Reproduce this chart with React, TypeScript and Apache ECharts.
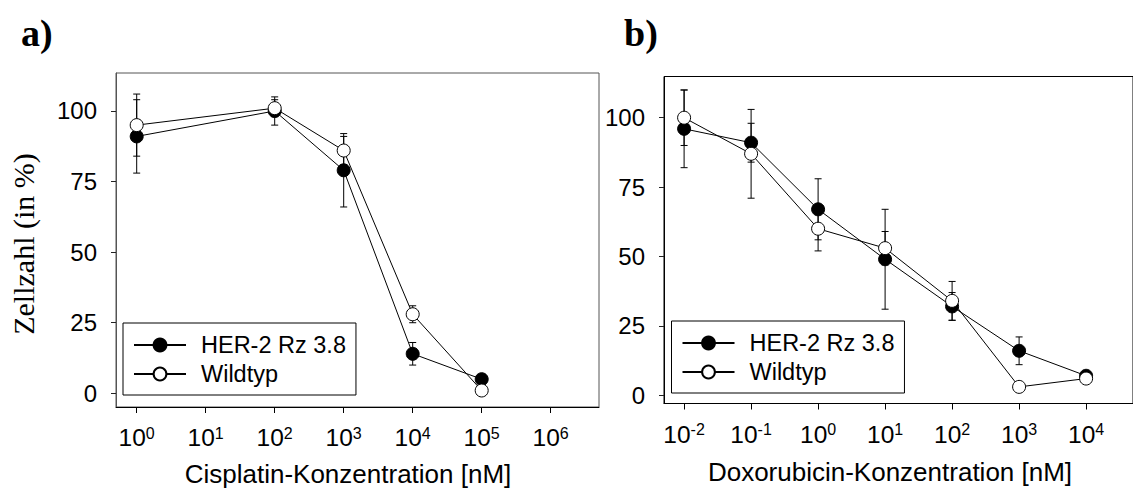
import React, { useEffect, useRef } from 'react';
import * as echarts from 'echarts';

const seriesNames = ['HER-2 Rz 3.8', 'Wildtyp'];
const yTicks = [0, 25, 50, 75, 100];

// Cisplatin (log10 of concentration in nM)
const cisExponents = [0, 2, 3, 4, 5];
const cisTickExponents = [0, 1, 2, 3, 4, 5, 6];
const cisHer2 = [91, 100, 79, 14, 5];
const cisHer2Err = [13, 5, 13, 4, 0];
const cisWild = [95, 101, 86, 28, 1];
const cisWildErr = [11, 3, 5, 3, 0];

// Doxorubicin (log10 of concentration in nM)
const doxExponents = [-2, -1, 0, 1, 2, 3, 4];
const doxTickExponents = [-2, -1, 0, 1, 2, 3, 4];
const doxHer2 = [96, 91, 67, 49, 32, 16, 7];
const doxHer2Err = [14, 7, 11, 18, 5, 5, 0];
const doxWild = [100, 87, 60, 53, 34, 3, 6];
const doxWildErr = [10, 16, 8, 6, 7, 0, 0];

const SANS = 'Liberation Sans, Arial, sans-serif';
const SERIF = 'Liberation Serif, Times New Roman, serif';

const pairs = (xs: number[], ys: number[]) => xs.map((x, i) => [x, ys[i]]);
const errData = (xs: number[], ys: number[], es: number[]) =>
  xs.map((x, i) => [x, ys[i] - es[i], ys[i] + es[i]]).filter((_, i) => es[i] > 0);

const renderErr = (_params: any, api: any) => {
  const x = api.value(0);
  const lo = api.value(1);
  const hi = api.value(2);
  const top = api.coord([x, hi]);
  const bot = api.coord([x, lo]);
  const w = 3.5;
  const style = { stroke: '#000', lineWidth: 1, fill: 'none' };
  return {
    type: 'group',
    children: [
      { type: 'line', shape: { x1: top[0], y1: top[1], x2: bot[0], y2: bot[1] }, style },
      { type: 'line', shape: { x1: top[0] - w, y1: top[1], x2: top[0] + w, y2: top[1] }, style },
      { type: 'line', shape: { x1: bot[0] - w, y1: bot[1], x2: bot[0] + w, y2: bot[1] }, style },
    ],
  };
};

const makeX = (gridIndex: number, min: number, max: number, ticks: number[]) => ({
  type: 'value',
  gridIndex,
  min,
  max,
  axisLine: { show: true, onZero: false, lineStyle: { color: '#000', width: 1 } },
  axisTick: { show: true, customValues: ticks, length: 6, lineStyle: { color: '#000' } },
  axisLabel: {
    customValues: ticks,
    margin: 18,
    formatter: (v: number) => `{b|10}{s|${v}}`,
    rich: {
      b: { fontFamily: SANS, fontSize: 24.5, color: '#000', lineHeight: 25 },
      s: { fontFamily: SANS, fontSize: 16, color: '#000', lineHeight: 12, verticalAlign: 'top' },
    },
  },
  splitLine: { show: false },
});

const makeY = (gridIndex: number, min: number, max: number, lineColor: string) => ({
  type: 'value',
  gridIndex,
  min,
  max,
  axisLine: { show: true, onZero: false, lineStyle: { color: lineColor, width: 1 } },
  axisTick: { show: true, customValues: yTicks, length: 5, lineStyle: { color: '#222' } },
  axisLabel: {
    customValues: yTicks,
    margin: 19,
    fontFamily: SANS,
    fontSize: 24,
    color: '#000',
  },
  splitLine: { show: false },
});

const lineSeries = (name: string, xi: number, data: number[][], filled: boolean, z: number) => ({
  type: 'line',
  name,
  xAxisIndex: xi,
  yAxisIndex: xi,
  data,
  symbol: 'circle',
  symbolSize: 13,
  showSymbol: true,
  silent: true,
  z,
  lineStyle: { color: '#000', width: 1 },
  itemStyle: { color: filled ? '#000' : '#fff', borderColor: '#000', borderWidth: 1 },
  emphasis: { disabled: true },
});

const errSeries = (xi: number, data: number[][]) => ({
  type: 'custom',
  xAxisIndex: xi,
  yAxisIndex: xi,
  data,
  encode: { x: 0, y: [1, 2] },
  renderItem: renderErr,
  silent: true,
  z: 1,
});

const makeLegend = (left: number, top: number) => ({
  orient: 'vertical',
  left,
  top,
  data: seriesNames,
  selectedMode: false,
  itemWidth: 52,
  itemHeight: 16,
  itemGap: 5,
  padding: [10, 10, 9, 10],
  borderColor: '#000',
  borderWidth: 1,
  backgroundColor: '#fff',
  textStyle: { fontFamily: SANS, fontSize: 23.5, color: '#000', lineHeight: 20, padding: [0, 0, 0, 10] },
});

export default function App() {
  const ref = useRef<HTMLDivElement>(null);
  useEffect(() => {
    if (!ref.current) return;
    const chart = echarts.init(ref.current, null, { renderer: 'svg' });
    chart.setOption({
      animation: false,
      backgroundColor: '#fff',
      grid: [
        { left: 116, top: 73, width: 483, height: 334, show: true, borderColor: '#555', borderWidth: 1 },
        { left: 664, top: 76.5, width: 477, height: 327, show: true, borderColor: '#000', borderWidth: 1 },
      ],
      xAxis: [makeX(0, -0.3, 6.7, cisTickExponents), makeX(1, -2.3, 4.7, doxTickExponents)],
      yAxis: [makeY(0, -4.85, 113.46, '#555'), makeY(1, -2.99, 114.86, '#000')],
      legend: [makeLegend(123, 323), makeLegend(671.5, 321)],
      series: [
        errSeries(0, errData(cisExponents, cisHer2, cisHer2Err)),
        errSeries(0, errData(cisExponents, cisWild, cisWildErr)),
        lineSeries(seriesNames[0], 0, pairs(cisExponents, cisHer2), true, 3),
        lineSeries(seriesNames[1], 0, pairs(cisExponents, cisWild), false, 4),
        errSeries(1, errData(doxExponents, doxHer2, doxHer2Err)),
        errSeries(1, errData(doxExponents, doxWild, doxWildErr)),
        lineSeries(seriesNames[0], 1, pairs(doxExponents, doxHer2), true, 3),
        lineSeries(seriesNames[1], 1, pairs(doxExponents, doxWild), false, 4),
      ],
      graphic: [
        { type: 'text', x: 21, y: 33, style: { text: 'a)', font: `bold 38px ${SERIF}`, fill: '#000', verticalAlign: 'middle' } },
        { type: 'text', x: 624, y: 33, style: { text: 'b)', font: `bold 38px ${SERIF}`, fill: '#000', verticalAlign: 'middle' } },
        {
          type: 'text', x: 23, y: 244, rotation: Math.PI / 2,
          style: { text: 'Zellzahl (in %)', font: `30px ${SERIF}`, fill: '#000', align: 'center', verticalAlign: 'middle' },
        },
        { type: 'text', x: 348, y: 474, style: { text: 'Cisplatin-Konzentration [nM]', font: `26px ${SANS}`, fill: '#000', align: 'center', verticalAlign: 'middle' } },
        { type: 'text', x: 890, y: 472, style: { text: 'Doxorubicin-Konzentration [nM]', font: `26px ${SANS}`, fill: '#000', align: 'center', verticalAlign: 'middle' } },
      ],
    });
    return () => chart.dispose();
  }, []);
  return <div ref={ref} style={{ position: 'fixed', left: 0, top: 0, width: 1133, height: 488 }} />;
}
